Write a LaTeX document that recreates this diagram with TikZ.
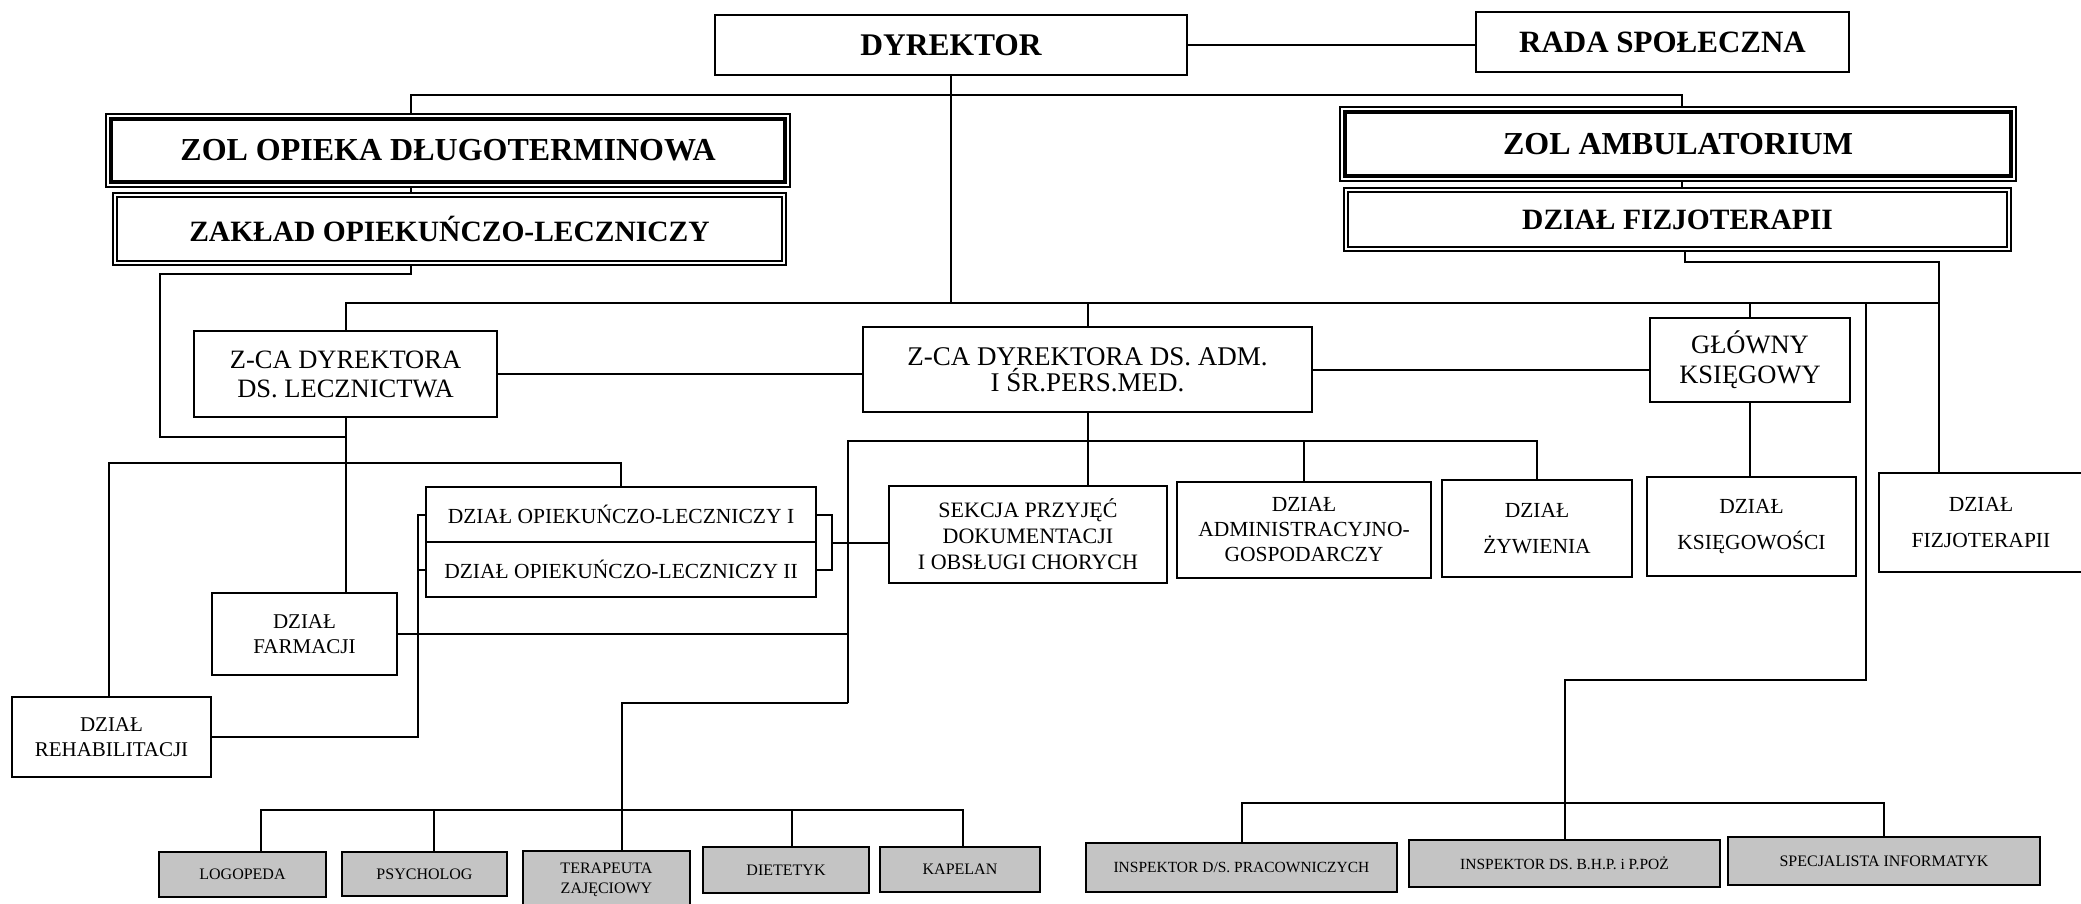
\documentclass[tikz,border=0pt]{standalone}
\usepackage{fontspec}
\setmainfont{Liberation Serif}
\definecolor{gfill}{RGB}{196,196,196}
\newcommand{\fs}[2]{\fontsize{#1}{#2}\selectfont}
\newcommand{\dframe}[3]{\draw[line width=#3] ([xshift=#2,yshift=-#2]#1.north west) rectangle ([xshift=-#2,yshift=#2]#1.south east);}
\begin{document}
\begin{tikzpicture}[x=1pt,y=-1pt,
  box/.style={draw, line width=2pt, align=center, inner sep=0pt},
  hbox/.style={draw, line width=1.6pt, align=center, inner sep=0pt, font=\bfseries\fs{32}{36}},
  gbox/.style={draw, line width=2pt, fill=gfill, align=center, inner sep=0pt, font=\fs{16}{20}},
  con/.style={line width=2pt}]
\fill[white] (0,0) rectangle (2081,904);
\useasboundingbox (0,0) rectangle (2081,904);

% --- top level
\node[box, minimum width=472pt, minimum height=60pt, font=\bfseries\fs{31.5}{36}] (dyr) at (951,45) {DYREKTOR};
\node[box, minimum width=373pt, minimum height=60pt, font=\bfseries\fs{31}{36}] (rada) at (1662.5,42) {RADA SPOŁECZNA};
\node[hbox, minimum width=684pt, minimum height=73pt] (zol1) at (448,150.5) {ZOL OPIEKA DŁUGOTERMINOWA};
\node[hbox, line width=2.4pt, minimum width=673pt, minimum height=72pt, font=\bfseries\fs{29.5}{34}] (zak) at (449.5,229) {ZAKŁAD OPIEKUŃCZO-LECZNICZY};
\node[hbox, minimum width=676pt, minimum height=74pt] (zol2) at (1678,144) {ZOL AMBULATORIUM};
\node[hbox, line width=2.4pt, minimum width=667pt, minimum height=63pt, font=\bfseries\fs{29.5}{34}] (fiz1) at (1677.5,219.5) {DZIAŁ FIZJOTERAPII};
\dframe{zol1}{6pt}{4.5pt}
\dframe{zol2}{6pt}{4.5pt}
\dframe{zak}{5.5pt}{2pt}
\dframe{fiz1}{5.5pt}{2pt}

% --- second level
\node[box, minimum width=303pt, minimum height=86pt, font=\fs{26.5}{29}] (zlecz) at (345.5,374) {Z-CA DYREKTORA\\DS. LECZNICTWA};
\node[box, minimum width=449pt, minimum height=85pt, font=\fs{27}{26}] (zadm) at (1087.5,369.5) {Z-CA DYREKTORA DS. ADM.\\I ŚR.PERS.MED.};
\node[box, minimum width=200pt, minimum height=84pt, font=\fs{26.5}{30}] (glow) at (1750,360) {GŁÓWNY\\KSIĘGOWY};

% --- departments
\node[box, minimum width=185pt, minimum height=82pt, font=\fs{21}{25}] (farm) at (304.5,634) {DZIAŁ\\FARMACJI};
\node[box, minimum width=199pt, minimum height=80pt, font=\fs{21}{25}] (rehab) at (111.5,737) {DZIAŁ\\REHABILITACJI};
\node[box, minimum width=390pt, minimum height=55pt, font=\fs{21.5}{25}] (op1) at (621,514.5) {DZIAŁ OPIEKUŃCZO-LECZNICZY I};
\node[box, minimum width=390pt, minimum height=55pt, font=\fs{21.5}{25}] (op2) at (621,569.5) {DZIAŁ OPIEKUŃCZO-LECZNICZY II};
\node[box, minimum width=278pt, minimum height=97pt, font=\fs{22}{26}] (sek) at (1028,534.5) {SEKCJA PRZYJĘĆ\\DOKUMENTACJI\\I OBSŁUGI CHORYCH};
\node[box, minimum width=254pt, minimum height=96pt, font=\fs{21.5}{25}] (admin) at (1304,530) {DZIAŁ\\ADMINISTRACYJNO-\\GOSPODARCZY};
\node[box, minimum width=190pt, minimum height=97pt, font=\fs{21.5}{36}] (zyw) at (1537,528.5) {DZIAŁ\\ŻYWIENIA};
\node[box, minimum width=209pt, minimum height=99pt, font=\fs{21.5}{36}] (ksieg) at (1751.5,526.5) {DZIAŁ\\KSIĘGOWOŚCI};
\node[box, minimum width=204pt, minimum height=99pt, font=\fs{21.5}{36}] (fiz2) at (1981,522.5) {DZIAŁ\\FIZJOTERAPII};

% --- grey posts
\node[gbox, minimum width=167pt, minimum height=45pt] (logo) at (242.5,874.5) {LOGOPEDA};
\node[gbox, minimum width=165pt, minimum height=44pt] (psych) at (424.5,874) {PSYCHOLOG};
\node[gbox, minimum width=167pt, minimum height=58pt, font=\fs{16}{20}] (terap) at (606.5,880) {TERAPEUTA\\ZAJĘCIOWY};
\node[gbox, minimum width=166pt, minimum height=46pt] (diet) at (786,870) {DIETETYK};
\node[gbox, minimum width=160pt, minimum height=45pt] (kap) at (960,869.5) {KAPELAN};
\node[gbox, minimum width=311pt, minimum height=49pt, font=\fs{15.5}{20}] (insp) at (1241.5,867.5) {INSPEKTOR D/S. PRACOWNICZYCH};
\node[gbox, minimum width=311pt, minimum height=47pt, font=\fs{15.5}{20}] (bhp) at (1564.5,863.5) {INSPEKTOR DS. B.H.P. i P.POŻ};
\node[gbox, minimum width=312pt, minimum height=48pt] (spec) at (1884,861) {SPECJALISTA INFORMATYK};

% --- connectors: top
\draw[con] (dyr.east) -- (dyr.east -| rada.west);
\coordinate (tL) at (411,95);
\coordinate (tR) at (1682,95);
\draw[con] (zol1.north -| tL) -- (tL) -- (tR) -- (zol2.north -| tR);
\draw[con] (zol1.south -| tL) -- (zak.north -| tL);
\draw[con] (zol2.south -| tR) -- (fiz1.north -| tR);
% zaklad to z-ca lecz
\coordinate (zk1) at (411,274);
\coordinate (zk2) at (160,274);
\coordinate (zk3) at (160,437);
\draw[con] (zak.south -| zk1) -- (zk1) -- (zk2) -- (zk3) -- (zk3 -| zlecz.south);
% main bus
\coordinate (mR) at (1939,303);
\coordinate (f1) at (1685,262);
\draw[con] (dyr.south) -- (dyr.south |- mR);
\draw[con] (zlecz.north) |- (mR);
\draw[con] (fiz1.south -| f1) -- (f1) -| (mR |- fiz2.north);
\draw[con] (zadm.north) -- (zadm.north |- mR);
\draw[con] (glow.north) -- (glow.north |- mR);
\draw[con] (zlecz.east) -- (zlecz.east -| zadm.west);
\draw[con] (zadm.east) -- (zadm.east -| glow.west);
\draw[con] (glow.south) -- (glow.south |- ksieg.north);
% right long line to inspectors
\coordinate (r1) at (1866,303);
\coordinate (r2) at (1866,680);
\coordinate (brb) at (0,803);
\draw[con] (r1) -- (r2) -| (bhp.north);
\draw[con] (insp.north) |- (spec.north |- brb) -- (spec.north);

% --- lecznictwo subtree
\coordinate (b1) at (109,463);
\draw[con] (zlecz.south) -- (zlecz.south |- farm.north);
\draw[con] (rehab.north -| b1) |- (op1.north |- b1) -- (op1.north);
\coordinate (lb) at (418,0);
\draw[con] (op1.west) -| (lb |- rehab.east) -- (rehab.east);
\draw[con] (op2.west) -- (op2.west -| lb);
\coordinate (rb) at (832,0);
\draw[con] (op1.east) -| (rb |- op2.east) -- (op2.east);
\draw[con] (rb |- op1.south) -- (op1.south -| sek.west);

% --- administration subtree
\coordinate (ab) at (848,441);
\coordinate (ab2) at (848,703);
\coordinate (tv) at (622,703);
\draw[con] (zadm.south) -- (zadm.south |- sek.north);
\draw[con] (ab2) -- (ab) -- (ab -| zyw.north) -- (zyw.north);
\draw[con] (admin.north) -- (admin.north |- ab);
\draw[con] (farm.east) -- (farm.east -| ab);
\draw[con] (ab2) -- (tv) -- (tv |- terap.north);
\coordinate (blb) at (0,810);
\draw[con] (261,0 |- logo.north) |- (963,0 |- blb) -- (963,0 |- kap.north);
\coordinate (xl) at (261,0);
\coordinate (xp) at (434,0);
\coordinate (xd) at (792,0);
\coordinate (xk) at (963,0);
\draw[con] (xp |- blb) -- (xp |- psych.north);
\draw[con] (xd |- blb) -- (xd |- diet.north);
\end{tikzpicture}
\end{document}
